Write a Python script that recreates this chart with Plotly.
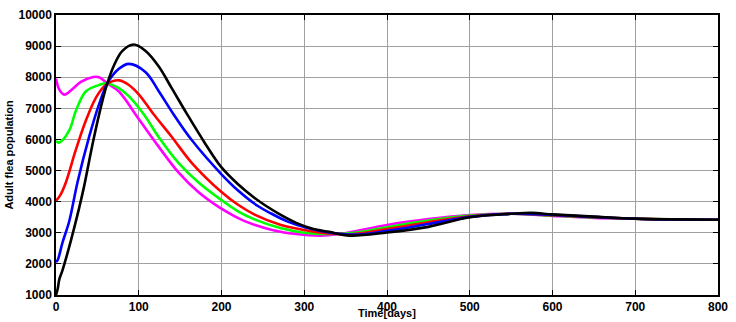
import plotly.graph_objects as go

# Time (days) and adult flea population for each initial condition
t_magenta = [0, 4, 10, 20, 30, 45, 52, 62, 76, 100, 124, 148, 172, 196, 216, 228, 260, 290, 320, 340, 360, 400, 450, 500, 550, 600, 650, 700, 750, 800]
y_magenta = [7960, 7600, 7440, 7620, 7850, 8010, 8000, 7800, 7540, 6656, 5770, 4940, 4310, 3840, 3530, 3375, 3100, 2960, 2910, 2950, 3040, 3250, 3440, 3570, 3610, 3540, 3480, 3450, 3420, 3420]

t_green = [0, 4, 16, 24, 36, 52, 62, 76, 88, 106, 124, 148, 172, 200, 220, 240, 271, 300, 330, 360, 400, 450, 500, 550, 600, 650, 700, 750, 800]
y_green = [5950, 5900, 6290, 6920, 7540, 7750, 7800, 7650, 7390, 6810, 6080, 5250, 4625, 4050, 3690, 3430, 3150, 3000, 2960, 3000, 3180, 3390, 3550, 3610, 3555, 3490, 3450, 3425, 3420]

t_red = [0, 5, 12, 24, 36, 48, 60, 76, 88, 100, 118, 140, 164, 200, 220, 240, 271, 300, 330, 360, 400, 450, 500, 550, 600, 650, 700, 750, 800]
y_red = [4030, 4200, 4625, 5670, 6600, 7330, 7750, 7900, 7750, 7450, 6810, 6080, 5250, 4310, 3900, 3585, 3260, 3090, 2980, 2960, 3120, 3340, 3530, 3610, 3565, 3500, 3450, 3425, 3420]

t_blue = [0, 2, 8, 16, 26, 40, 52, 62, 76, 88, 108, 124, 142, 164, 200, 220, 244, 260, 280, 303, 330, 360, 400, 450, 500, 550, 600, 650, 700, 750, 800]
y_blue = [2060, 2120, 2700, 3370, 4625, 6080, 7125, 7800, 8270, 8430, 8170, 7560, 6810, 5980, 4880, 4360, 3860, 3620, 3360, 3160, 3010, 2940, 3060, 3280, 3510, 3610, 3575, 3510, 3450, 3425, 3420]

t_black = [0, 2, 4, 8, 18, 28, 34, 40, 46, 56, 62, 70, 80, 94, 108, 124, 140, 158, 180, 200, 220, 240, 254, 270, 291, 310, 330, 355, 400, 450, 500, 550, 575, 600, 650, 700, 750, 800]
y_black = [1000, 1190, 1500, 1810, 2750, 3800, 4500, 5300, 6080, 7230, 7800, 8375, 8840, 9050, 8850, 8350, 7640, 6830, 5880, 5100, 4560, 4120, 3860, 3600, 3310, 3130, 3030, 2910, 3010, 3190, 3500, 3610, 3640, 3590, 3520, 3455, 3430, 3420]

x_ticks = [0, 100, 200, 300, 400, 500, 600, 700, 800]
y_ticks = [1000, 2000, 3000, 4000, 5000, 6000, 7000, 8000, 9000, 10000]

series = [
    (t_magenta, y_magenta, "#ff00ff"),
    (t_green, y_green, "#00ff00"),
    (t_red, y_red, "#ff0000"),
    (t_blue, y_blue, "#0000ff"),
    (t_black, y_black, "#000000"),
]

fig = go.Figure()
for t, y, c in series:
    fig.add_trace(go.Scatter(x=t, y=y, mode="lines",
                             line=dict(color=c, width=2.6, shape="spline", smoothing=1.0),
                             showlegend=False, hoverinfo="skip"))

font = dict(family="Liberation Sans, Arial, sans-serif", size=12, color="#000000", weight="bold")

fig.update_layout(
    width=736, height=322,
    margin=dict(l=56, r=10, t=8, b=26),
    paper_bgcolor="white", plot_bgcolor="white",
    font=font,
    xaxis=dict(range=[0, 800], tickvals=x_ticks, ticktext=[str(v) for v in x_ticks],
               showgrid=True, gridcolor="#a0a0a0", gridwidth=1,
               showline=True, linecolor="black", linewidth=1.5, mirror="allticks",
               ticks="inside", ticklen=5, tickcolor="black", tickfont=font, zeroline=False,
               ticklabeloverflow="allow"),
    yaxis=dict(range=[1000, 10000], tickvals=y_ticks, ticktext=[str(v) for v in y_ticks],
               showgrid=True, gridcolor="#a0a0a0", gridwidth=1,
               showline=True, linecolor="black", linewidth=1.5, mirror="allticks",
               ticks="inside", ticklen=5, tickcolor="black", tickfont=font, zeroline=False,
               ticklabeloverflow="allow"),
    annotations=[
        dict(text="Time[days]", xref="paper", yref="paper", x=0.5, y=-0.0903,
             xanchor="center", yanchor="bottom", showarrow=False, borderpad=0,
             font=dict(family="Liberation Sans, Arial, sans-serif", size=11, color="black", weight="bold")),
        dict(text="Adult flea population", xref="paper", yref="paper", x=-0.0716, y=0.5,
             xanchor="center", yanchor="middle", textangle=-90, showarrow=False,
             font=dict(family="Liberation Sans, Arial, sans-serif", size=11, color="black", weight="bold")),
    ],
)

fig.write_html("out.html")
